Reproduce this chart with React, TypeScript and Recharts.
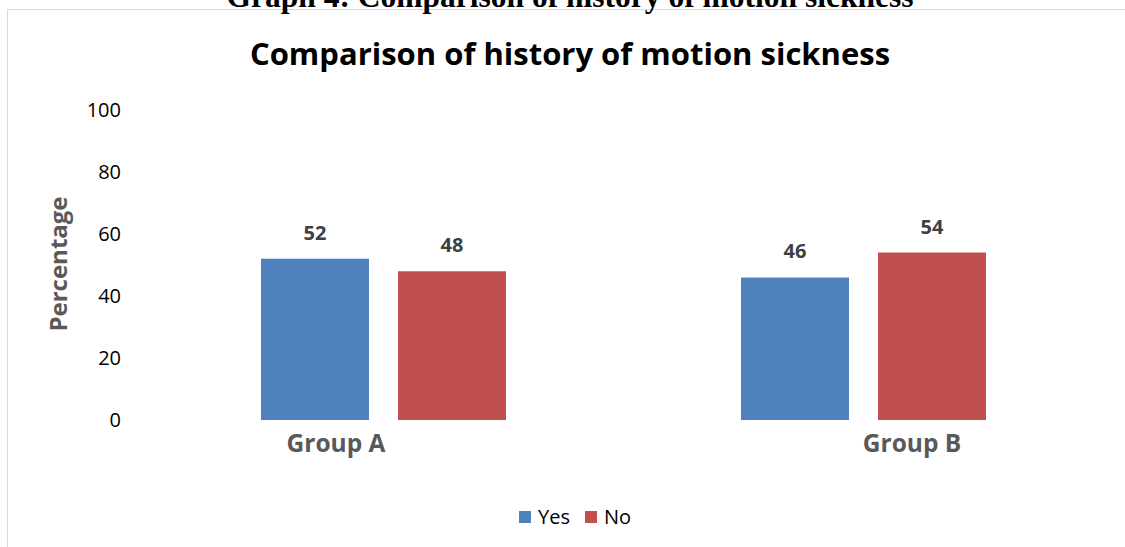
import React from 'react';
import { Bar, BarChart, LabelList, Legend, XAxis, YAxis } from 'recharts';

const groups = ['Group A', 'Group B'];
const seriesNames = ['Yes', 'No'];
const yesValues = [52, 46];
const noValues = [48, 54];
const yTicks = [0, 20, 40, 60, 80, 100];

const data = groups.map((group, i) => ({ group, Yes: yesValues[i], No: noValues[i] }));

const BLUE = '#4F81BD';
const RED = '#C0504D';
const FONT = '"Open Sans", Lato, sans-serif';

// category labels sit a little off-centre under each pair of bars
const xLabelShift = [-47, 49];

function XTick(props: any) {
	const { x, y, payload, index } = props;
	return (
		<text
			x={x + (xLabelShift[index] ?? 0)}
			y={y + 32}
			textAnchor="middle"
			fill="#595959"
			fontFamily={FONT}
			fontWeight={700}
			fontSize={24.5}
		>
			{payload.value}
		</text>
	);
}

function YTick(props: any) {
	const { x, y, payload } = props;
	return (
		<text x={x - 22} y={y + 7} textAnchor="end" fill="#000" fontFamily={FONT} fontSize={20}>
			{payload.value}
		</text>
	);
}

function LegendContent(props: any) {
	const { payload } = props;
	const items = seriesNames.map((name) => payload.find((p: any) => p.value === name)).filter(Boolean);
	return (
		<div style={{ display: 'flex', alignItems: 'center', fontFamily: FONT, fontSize: 20, color: '#000' }}>
			{items.map((entry: any) => (
				<div key={entry.value} style={{ display: 'flex', alignItems: 'center', marginRight: 15 }}>
					<span style={{ width: 12, height: 12, background: entry.color, marginRight: 7 }} />
					<span>{entry.value}</span>
				</div>
			))}
		</div>
	);
}

export default function App() {
	return (
		<div style={{ position: 'relative', width: 1125, height: 547, background: '#fff', overflow: 'hidden' }}>
			<style>{'body { margin: 0; }'}</style>
			{/* frame of the chart area */}
			<div style={{ position: 'absolute', left: 7, top: 9, width: 1200, height: 600, borderLeft: '1px solid #d9d9d9', borderTop: '1px solid #d9d9d9' }} />
			<div style={{ position: 'absolute', left: 0, top: 0 }}>
				<BarChart
					width={1125}
					height={547}
					data={data}
					margin={{ top: 110, right: 22, bottom: 87, left: 83 }}
					barSize={108}
					barGap={29}
				>
					<XAxis dataKey="group" height={40} axisLine={false} tickLine={false} tickSize={0} tickMargin={0} tick={<XTick />} interval={0} />
					<YAxis
						width={60}
						domain={[0, 100]}
						ticks={yTicks}
						axisLine={false}
						tickLine={false}
						tickSize={0}
						tickMargin={0}
						tick={<YTick />}
					/>
					<Legend
						layout="horizontal"
						verticalAlign="middle"
						align="center"
						wrapperStyle={{ top: 503, left: 519, width: 220 }}
						content={<LegendContent />}
					/>
					<Bar dataKey="Yes" fill={BLUE} isAnimationActive={false}>
						<LabelList dataKey="Yes" position="top" offset={19} fill="#404040" fontFamily={FONT} fontWeight={700} fontSize={20} />
					</Bar>
					<Bar dataKey="No" fill={RED} isAnimationActive={false}>
						<LabelList dataKey="No" position="top" offset={19} fill="#404040" fontFamily={FONT} fontWeight={700} fontSize={20} />
					</Bar>
				</BarChart>
			</div>
			<svg width={1125} height={547} style={{ position: 'absolute', left: 0, top: 0, pointerEvents: 'none' }}>
				<text x={570} y={7} textAnchor="middle" fontFamily='"Liberation Serif", serif' fontWeight={700} fontSize={31.5} fill="#000">
					Graph 4: Comparison of history of motion sickness
				</text>
				<text x={570} y={65} textAnchor="middle" fontFamily={FONT} fontWeight={700} fontSize={31} fill="#000">
					Comparison of history of motion sickness
				</text>
				<text x={67} y={264} transform="rotate(-90 67 264)" textAnchor="middle" fontFamily={FONT} fontWeight={700} fontSize={24} fill="#595959">
					Percentage
				</text>
			</svg>
		</div>
	);
}
